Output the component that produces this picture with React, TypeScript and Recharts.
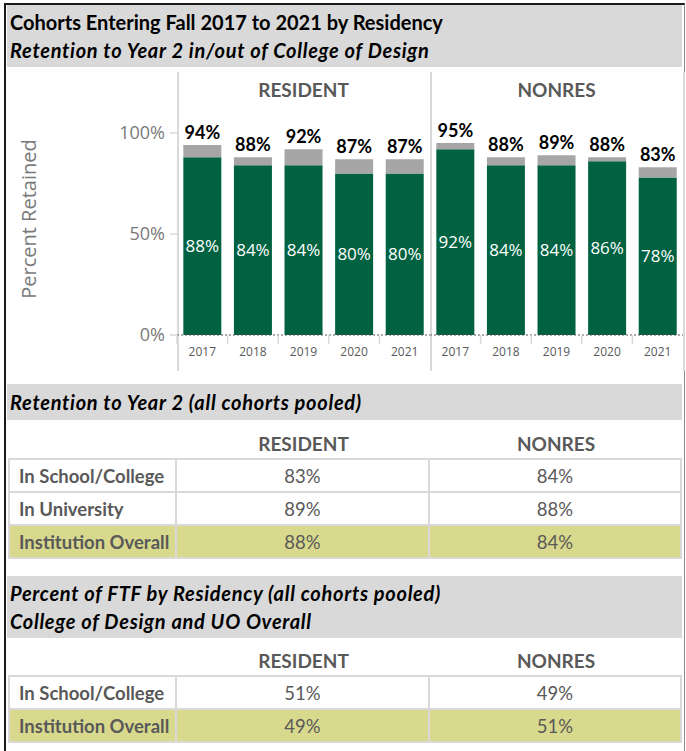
import React from 'react'
import { BarChart, Bar, XAxis, YAxis, LabelList } from 'recharts'

const years = ['2017', '2018', '2019', '2020', '2021']
const residentInCollege = [88, 84, 84, 80, 80]
const residentInUniversity = [94, 88, 92, 87, 87]
const nonresInCollege = [92, 84, 84, 86, 78]
const nonresInUniversity = [95, 88, 89, 88, 83]

const groups = ['RESIDENT', 'NONRES']
const retentionRows = ['In School/College', 'In University', 'Institution Overall']
const retentionResident = ['83%', '89%', '88%']
const retentionNonres = ['84%', '88%', '84%']
const ftfRows = ['In School/College', 'Institution Overall']
const ftfResident = ['51%', '49%']
const ftfNonres = ['49%', '51%']

const GREEN = '#006241'
const GRAY = '#a6a6a6'
const BAND = '#d9d9d9'
const LINE = '#d9d9d9'
const TEXT = '#595959'
const HIGHLIGHT = '#d8d98c'
const CAL = 'Lato, "Noto Sans", sans-serif'
const SEG = '"Open Sans", "Noto Sans", sans-serif'

const PANE_W = 253
const HALF_BAND = PANE_W / years.length / 2

function buildRows(college: number[], univ: number[]) {
  return years.map((y, i) => ({ year: y, college: college[i], gap: univ[i] - college[i], univ: univ[i] }))
}

const residentData = buildRows(residentInCollege, residentInUniversity)
const nonresData = buildRows(nonresInCollege, nonresInUniversity)

function YearTick(props: any) {
  const { x, y, payload } = props
  return (
    <g>
      <line x1={x - HALF_BAND} x2={x - HALF_BAND} y1={y} y2={y + 9} stroke={LINE} strokeWidth={1.5} />
      <text x={x} y={y + 21} textAnchor="middle" fontSize={12} fill={TEXT} fontFamily={SEG}>{payload.value}</text>
    </g>
  )
}

function YLabel(props: any) {
  const vb = props.viewBox
  const cx = vb.x + 20
  const cy = vb.y + vb.height / 2 - 15
  return (
    <text x={cx} y={cy} transform={`rotate(-90 ${cx} ${cy})`} textAnchor="middle" dominantBaseline="central"
      fontSize={20} fill="#7a7a7a" fontFamily={SEG}>Percent Retained</text>
  )
}

const pct = (v: any) => `${v}%`

function Pane({ data, width, showAxis }: { data: any[]; width: number; showAxis: boolean }) {
  return (
    <BarChart width={width} height={307} data={data} margin={{ top: 65, right: 0, bottom: 0, left: 0 }}
      barCategoryGap="12.5%">
      <XAxis dataKey="year" height={40} tickSize={0} tickMargin={0} tick={<YearTick />}
        axisLine={{ stroke: '#595959', strokeDasharray: '2 2' }} interval={0} />
      <YAxis hide={!showAxis} width={169} domain={[0, 100]} ticks={[0, 50, 100]} tickFormatter={pct}
        axisLine={false} tickLine={{ stroke: LINE, strokeWidth: 1.5 }} tickSize={7} tickMargin={5}
        tick={{ fontSize: 18, fill: '#7a7a7a', fontFamily: SEG }} label={YLabel} />
      <Bar dataKey="college" stackId="a" fill={GREEN} isAnimationActive={false}>
        <LabelList dataKey="college" position="center" formatter={pct} fill="#ffffff" fontSize={17} fontFamily={SEG} />
      </Bar>
      <Bar dataKey="gap" stackId="a" fill={GRAY} isAnimationActive={false}>
        <LabelList dataKey="univ" position="top" offset={6} formatter={pct} fill="#000000" fontSize={18}
          fontWeight={700} fontFamily={CAL} />
      </Bar>
    </BarChart>
  )
}

function Band({ top, height, lines }: { top: number; height: number; lines: { text: string; italic: boolean }[] }) {
  return (
    <div style={{ position: 'absolute', left: 7, top, width: 675, height, background: BAND, display: 'flex',
      flexDirection: 'column', justifyContent: 'center', paddingLeft: 3, boxSizing: 'border-box' }}>
      {lines.map(l => (
        <div key={l.text} style={{ fontFamily: CAL, fontWeight: 700, fontStyle: l.italic ? 'italic' : 'normal',
          fontSize: 20, letterSpacing: l.italic ? 0.7 : 0, lineHeight: '28px', color: '#000' }}>{l.text}</div>
      ))}
    </div>
  )
}

function PoolTable({ top, rows, resident, nonres }: { top: number; rows: string[]; resident: string[]; nonres: string[] }) {
  const cell = (w: number): React.CSSProperties => ({ width: w, boxSizing: 'border-box', display: 'flex', alignItems: 'center' })
  return (
    <div style={{ position: 'absolute', left: 8, top, width: 674 }}>
      <div style={{ display: 'flex', height: 30 }}>
        <div style={cell(169)} />
        {groups.map((g, i) => (
          <div key={g} style={{ ...cell(i === 0 ? 253 : 252), justifyContent: 'center', fontFamily: CAL, fontWeight: 700,
            fontSize: 19, color: TEXT }}>{g}</div>
        ))}
      </div>
      <div style={{ borderTop: `2px solid ${LINE}` }}>
        {rows.map((r, i) => {
          const last = i === rows.length - 1
          return (
            <div key={r} style={{ display: 'flex', height: 33, boxSizing: 'border-box', borderBottom: `2px solid ${LINE}`,
              borderLeft: `2px solid ${LINE}`, borderRight: `2px solid ${LINE}`, background: last ? HIGHLIGHT : '#fff' }}>
              <div style={{ ...cell(167), paddingLeft: 9, fontFamily: CAL, fontWeight: 700, fontSize: 18.5, color: TEXT,
                borderRight: `2px solid ${LINE}` }}>{r}</div>
              <div style={{ ...cell(253), justifyContent: 'center', fontFamily: CAL, fontSize: 18.5, color: TEXT,
                borderRight: `2px solid ${LINE}` }}>{resident[i]}</div>
              <div style={{ ...cell(250), justifyContent: 'center', fontFamily: CAL, fontSize: 18.5, color: TEXT }}>{nonres[i]}</div>
            </div>
          )
        })}
      </div>
    </div>
  )
}

export default function App() {
  const paneLine = (x: number) => (
    <div style={{ position: 'absolute', left: x, top: 72, width: 1.5, height: 299, background: LINE }} />
  )
  return (
    <div style={{ position: 'absolute', left: 0, top: 0, width: 686, height: 751, background: '#fff', overflow: 'hidden' }}>
      <div style={{ position: 'absolute', left: 4, top: 3, width: 681, height: 800, boxSizing: 'border-box',
        borderLeft: '2px solid #1a1a1a', borderTop: '2px solid #1a1a1a', borderRight: '1px solid #8a8a8a' }} />
      <Band top={5} height={62} lines={[
        { text: 'Cohorts Entering Fall 2017 to 2021 by Residency', italic: false },
        { text: 'Retention to Year 2 in/out of College of Design', italic: true },
      ]} />
      {paneLine(177)}
      {paneLine(430)}
      {paneLine(683)}
      {groups.map((g, i) => (
        <div key={g} style={{ position: 'absolute', left: 177 + i * PANE_W, top: 78, width: PANE_W, textAlign: 'center',
          fontFamily: CAL, fontWeight: 700, fontSize: 19, color: TEXT, lineHeight: '24px' }}>{g}</div>
      ))}
      <div style={{ position: 'absolute', left: 8, top: 68 }}>
        <Pane data={residentData} width={169 + PANE_W} showAxis={true} />
      </div>
      <div style={{ position: 'absolute', left: 430, top: 68 }}>
        <Pane data={nonresData} width={PANE_W} showAxis={false} />
      </div>
      <Band top={384} height={36} lines={[{ text: 'Retention to Year 2 (all cohorts pooled)', italic: true }]} />
      <PoolTable top={428} rows={retentionRows} resident={retentionResident} nonres={retentionNonres} />
      <Band top={576} height={62} lines={[
        { text: 'Percent of FTF by Residency (all cohorts pooled)', italic: true },
        { text: 'College of Design and UO Overall', italic: true },
      ]} />
      <PoolTable top={645} rows={ftfRows} resident={ftfResident} nonres={ftfNonres} />
    </div>
  )
}
